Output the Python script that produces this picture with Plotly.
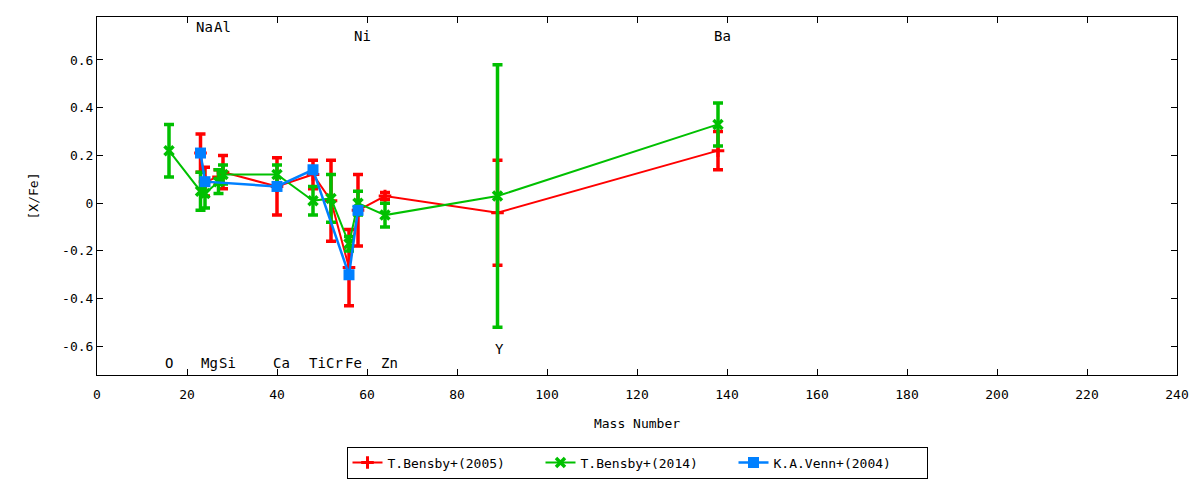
import plotly.graph_objects as go

# element abundances [X/Fe] vs mass number
red_mass = [23, 24, 27, 28, 40, 48, 52, 56, 58, 64, 89, 138]
red_val = [0.21, 0.09, 0.11, 0.13, 0.07, 0.12, 0.01, -0.27, -0.03, 0.03, -0.04, 0.22]
red_err = [0.08, 0.06, 0.03, 0.07, 0.12, 0.06, 0.17, 0.16, 0.15, 0.015, 0.22, 0.08]

green_mass = [16, 23, 24, 27, 28, 40, 48, 52, 56, 58, 64, 89, 138]
green_val = [0.22, 0.05, 0.04, 0.09, 0.12, 0.12, 0.01, 0.02, -0.17, 0.00, -0.05, 0.03, 0.33]
green_err = [0.11, 0.08, 0.06, 0.05, 0.04, 0.04, 0.06, 0.10, 0.03, 0.05, 0.05, 0.55, 0.09]

blue_mass = [23, 24, 40, 48, 56, 58]
blue_val = [0.21, 0.09, 0.07, 0.14, -0.30, -0.03]

label_text = ["O", "Na", "Mg", "Al", "Si", "Ca", "Ti", "Cr", "Fe", "Ni", "Zn", "Y", "Ba"]
label_x = [16, 23.9, 24.9, 27.9, 28.9, 41, 48.9, 52.7, 57, 58.9, 65, 89.5, 138.9]
label_y = [-0.67, 0.74, -0.67, 0.74, -0.67, -0.67, -0.67, -0.67, -0.67, 0.70, -0.67, -0.61, 0.70]

font = "DejaVu Sans Mono"

fig = go.Figure()
fig.add_trace(go.Scatter(
    x=red_mass, y=red_val, mode="lines+markers", name="T.Bensby+(2005)",
    line=dict(color="#ff0000", width=2),
    marker=dict(symbol="cross-thin", size=9, color="#ff0000", line=dict(color="#ff0000", width=3)),
    error_y=dict(type="data", array=red_err, color="#ff0000", thickness=3.5, width=5)))
fig.add_trace(go.Scatter(
    x=green_mass, y=green_val, mode="lines+markers", name="T.Bensby+(2014)",
    line=dict(color="#00c000", width=2),
    marker=dict(symbol="x-thin", size=9, color="#00c000", line=dict(color="#00c000", width=3.5)),
    error_y=dict(type="data", array=green_err, color="#00c000", thickness=3.5, width=5)))
fig.add_trace(go.Scatter(
    x=blue_mass, y=blue_val, mode="lines+markers", name="K.A.Venn+(2004)",
    line=dict(color="#0080ff", width=2.5),
    marker=dict(symbol="square", size=11, color="#0080ff")))

for t, xx, yy in zip(label_text, label_x, label_y):
    fig.add_annotation(x=xx, y=yy, text=t, showarrow=False,
                       font=dict(family=font, size=14, color="black"))

fig.update_layout(
    width=1192, height=472,
    margin=dict(l=89, r=23, t=9, b=105, autoexpand=False),
    plot_bgcolor="white", paper_bgcolor="white",
    font=dict(family=font, size=13, color="black"),
    legend=dict(orientation="h", x=0.5, xanchor="center", y=-0.2, yanchor="top",
                bordercolor="black", borderwidth=1, entrywidth=148, entrywidthmode="pixels",
                font=dict(family=font, size=13)),
)
fig.update_xaxes(range=[0, 240], dtick=20, showgrid=False, zeroline=False,
                 showline=True, linecolor="black", linewidth=1, mirror="ticks",
                 ticks="inside", ticklen=6, tickcolor="black",
                 tickfont=dict(family=font, size=13), ticklabelstandoff=7,
                 title=dict(text="Mass Number", standoff=18, font=dict(family=font, size=13)))
fig.update_yaxes(range=[-0.72, 0.78], tickvals=[-0.6, -0.4, -0.2, 0, 0.2, 0.4, 0.6],
                 ticktext=["-0.6", "-0.4", "-0.2", "0", "0.2", "0.4", "0.6"],
                 showgrid=False, zeroline=False,
                 showline=True, linecolor="black", linewidth=1, mirror="ticks",
                 ticks="inside", ticklen=6, tickcolor="black",
                 tickfont=dict(family=font, size=13),
                 title=dict(text="[X/Fe]", standoff=20, font=dict(family=font, size=13)))

fig.write_html("out.html")
